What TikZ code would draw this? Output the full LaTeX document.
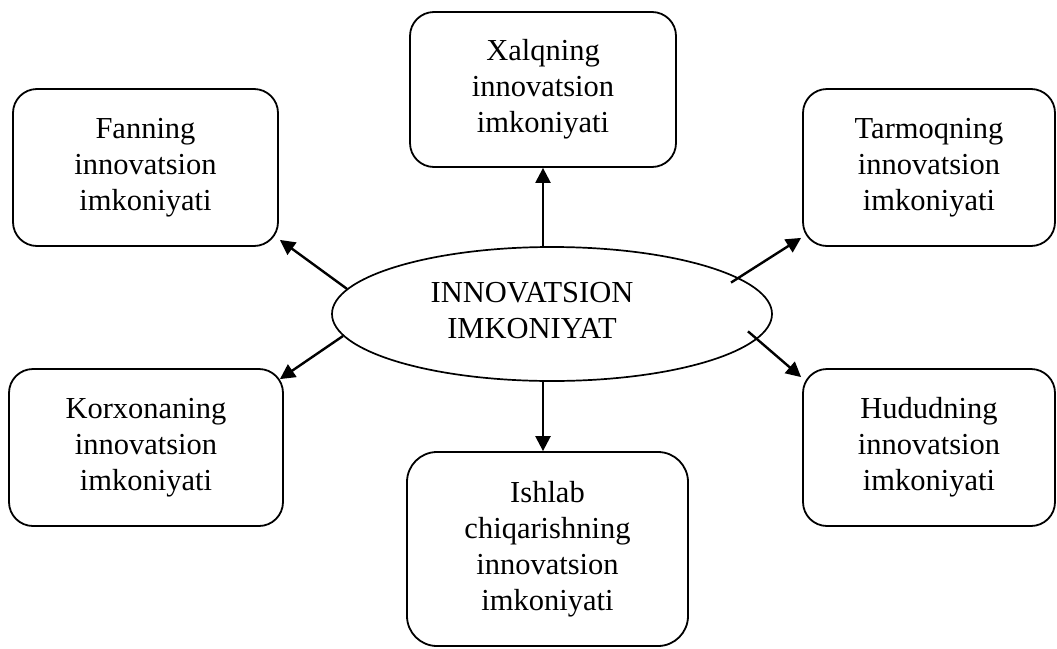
\documentclass[tikz,border=0pt]{standalone}
\usepackage{fontspec}
\setmainfont{Liberation Serif}
\usetikzlibrary{arrows.meta,calc,shapes.geometric}
\begin{document}
\begin{tikzpicture}[x=1pt,y=-1pt,
  box/.style={draw,line width=1.8pt,rounded corners=24pt,align=center,
    font=\fontsize{30.5}{36}\selectfont,inner sep=0pt},
  conn/.style={line width=2.4pt,-{Triangle[length=15pt,width=15pt]}},
  lbl/.style={align=center,font=\fontsize{30.5}{36}\selectfont,inner sep=0pt}
]
\useasboundingbox (0,0) rectangle (1057,648);
\node[box,minimum width=266pt,minimum height=155pt] (xal) at (543,89.5) {Xalqning\\innovatsion\\imkoniyati};
\node[box,minimum width=265pt,minimum height=157pt] (fan) at (145.5,167.5) {Fanning\\innovatsion\\imkoniyati};
\node[box,minimum width=252pt,minimum height=157pt] (tar) at (929,167.5) {Tarmoqning\\innovatsion\\imkoniyati};
\node[box,minimum width=274pt,minimum height=157pt] (kor) at (146,447.5) {Korxonaning\\innovatsion\\imkoniyati};
\node[box,minimum width=252pt,minimum height=157pt] (hud) at (929,447.5) {Hududning\\innovatsion\\imkoniyati};
\node[box,rounded corners=30pt,minimum width=281pt,minimum height=194pt] (ish) at (547.5,549) {Ishlab\\chiqarishning\\innovatsion\\imkoniyati};
\node[draw,ellipse,line width=1.7pt,minimum width=440pt,minimum height=134pt,inner sep=0pt] (c) at (552,314) {};
\node[lbl] (ctext) at (532,311) {INNOVATSION\\IMKONIYAT};
\draw[conn] (c.north -| xal.south) -- (xal.south);
\draw[conn] (c.south -| xal.south) -- (ish.north -| xal.south);
\draw[conn] (c.173.7) -- ($(fan.south east)+(1,-7)$);
\draw[conn] (c.186.6) -- ($(kor.north east)+(-4,11)$);
\draw[conn,shorten <=-9pt] (c.11) -- ($(tar.south west)+(-1,-9)$);
\draw[conn,shorten <=-12pt] (c.-7) -- ($(hud.north west)+(-1,9)$);
\end{tikzpicture}
\end{document}
